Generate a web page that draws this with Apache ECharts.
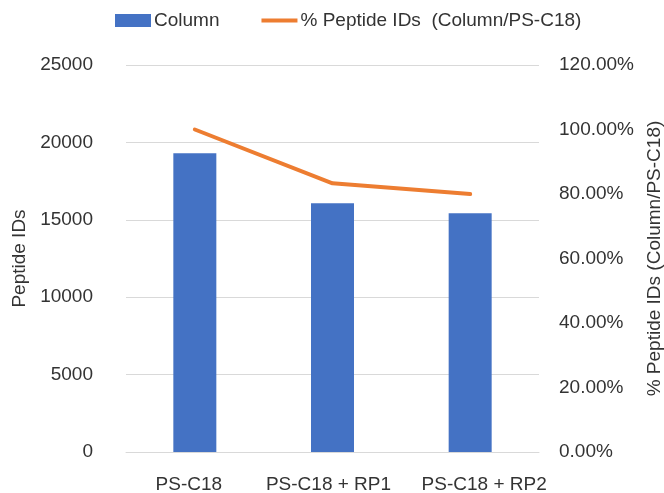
<!DOCTYPE html>
<html>
<head>
<meta charset="utf-8">
<script src="https://cdn.jsdelivr.net/npm/echarts@6/dist/echarts.min.js"></script>
<style>html,body{margin:0;padding:0;background:#fff}#c{width:664px;height:493px}</style>
</head>
<body>
<div id="c"></div>
<script>
const categories = ['PS-C18', 'PS-C18 + RP1', 'PS-C18 + RP2'];
const peptideIDs = [19300, 16070, 15420];
const pctPeptideIDs = [1.0, 0.833, 0.80];
const leftTicks = {min: 0, max: 25000, interval: 5000};
const rightTicks = {min: 0, max: 1.2, interval: 0.2};

const txt = '#333333';
const font = 'Liberation Sans, Arial, sans-serif';
const fs = 19;
const chart = echarts.init(document.getElementById('c'), null, {renderer: 'canvas'});
chart.setOption({
  animation: false,
  textStyle: {fontFamily: font},
  legend: {
    left: 110, top: 6, itemGap: 42, itemWidth: 36, itemHeight: 13,
    textStyle: {fontSize: fs, color: txt, fontFamily: font, padding: [0,0,0,-2]},
    data: [
      {name: 'Column', icon: 'rect'},
      {name: '% Peptide IDs  (Column/PS-C18)', icon: 'path://M0,0 H36 V4 H0 Z'}
    ]
  },
  grid: {left: 126, right: 125, top: 65, bottom: 41, containLabel: false, outerBoundsMode: 'none'},
  xAxis: {
    type: 'category', data: categories,
    axisLine: {lineStyle: {color: '#d9d9d9', width: 1}},
    axisTick: {show: false},
    axisLabel: {color: txt, fontSize: fs, margin: 23, fontFamily: font, interval: 0,
      formatter: (v, i) => '{c' + i + '|' + v + '}',
      rich: {
        c0: {fontSize: fs, color: txt, fontFamily: font, padding: [0, 12, 0, 0]},
        c1: {fontSize: fs, color: txt, fontFamily: font, padding: [0, 8, 0, 0]},
        c2: {fontSize: fs, color: txt, fontFamily: font, padding: [0, 0, 0, 28]}
      }}
  },
  yAxis: [{
    type: 'value', min: leftTicks.min, max: leftTicks.max, interval: leftTicks.interval,
    name: 'Peptide IDs', nameLocation: 'middle', nameGap: 94,
    nameTextStyle: {color: txt, fontSize: fs, fontFamily: font},
    axisLine: {show: false}, axisTick: {show: false},
    axisLabel: {color: txt, fontSize: fs, margin: 33, fontFamily: font,
      formatter: v => String(v)},
    splitLine: {lineStyle: {color: '#d9d9d9', width: 1}}
  }, {
    type: 'value', min: rightTicks.min, max: rightTicks.max, interval: rightTicks.interval,
    name: '% Peptide IDs (Column/PS-C18)', nameLocation: 'middle', nameGap: 98, nameRotate: 90,
    nameTextStyle: {color: txt, fontSize: fs, fontFamily: font},
    axisLine: {show: false}, axisTick: {show: false},
    axisLabel: {color: txt, fontSize: fs, margin: 20, fontFamily: font,
      formatter: v => (v * 100).toFixed(2) + '%'},
    splitLine: {show: false}
  }],
  series: [{
    name: 'Column', type: 'bar', data: peptideIDs, barWidth: 43,
    itemStyle: {color: '#4472c4'}
  }, {
    name: '% Peptide IDs  (Column/PS-C18)', type: 'line', yAxisIndex: 1, data: pctPeptideIDs,
    symbol: 'none', showSymbol: false,
    lineStyle: {color: '#ed7d31', width: 4, cap: 'round', join: 'round'},
    itemStyle: {color: '#ed7d31'}
  }]
});
</script>
</body>
</html>
